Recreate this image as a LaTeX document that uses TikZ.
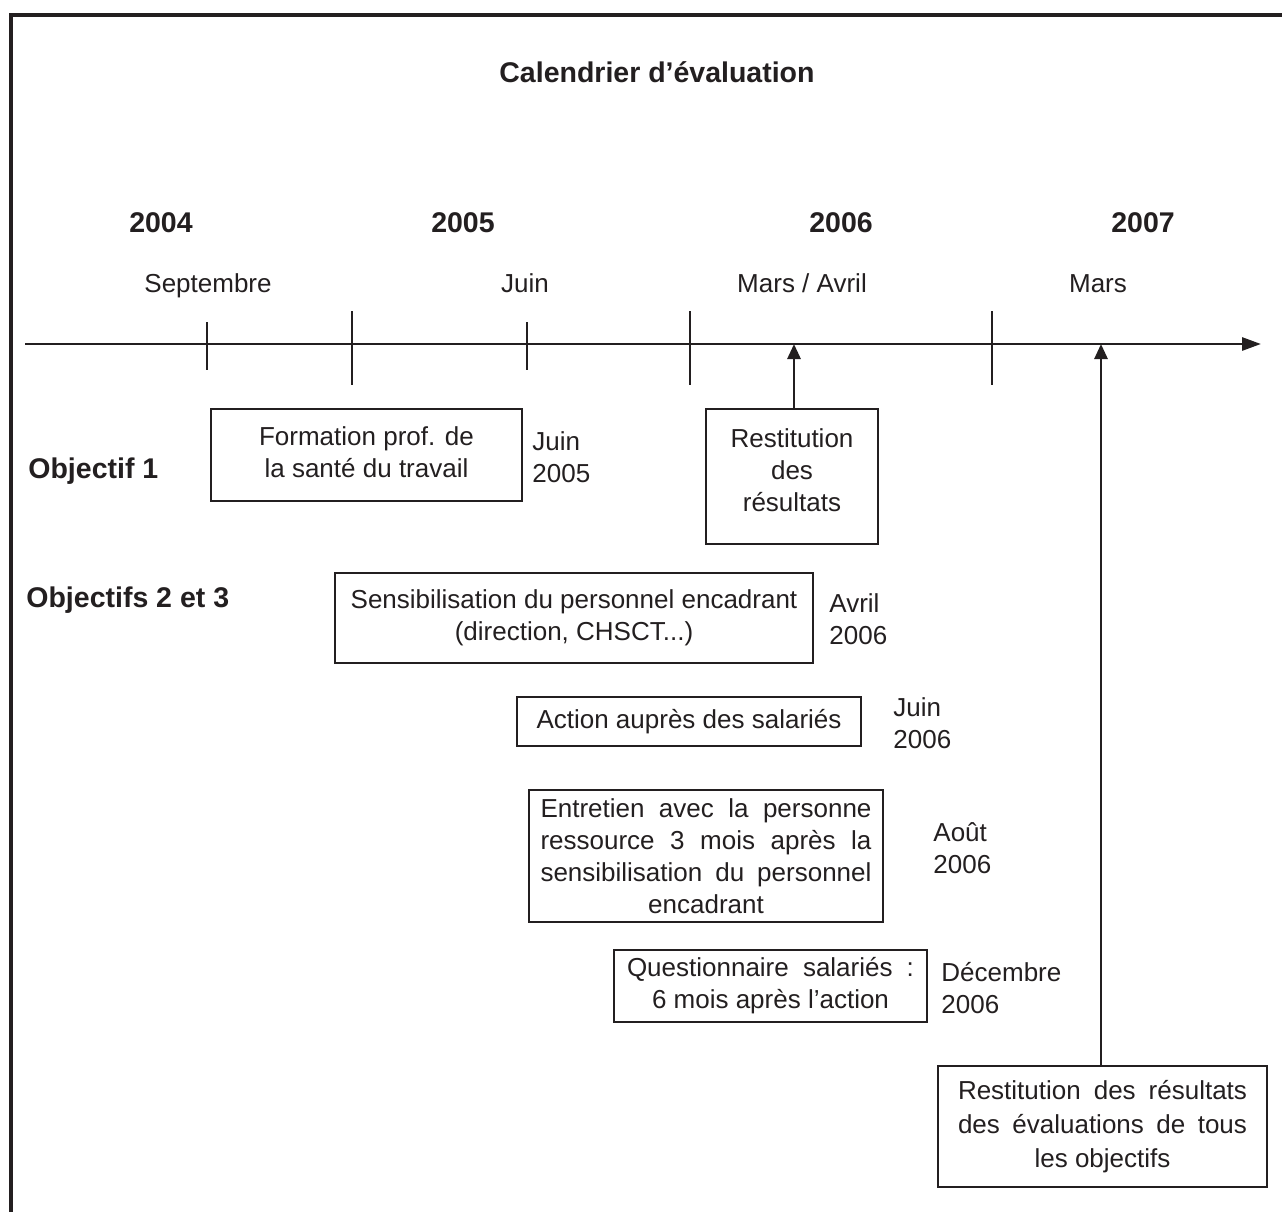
\documentclass[tikz,border=0pt]{standalone}
\usepackage{fontspec}
\setmainfont{Liberation Sans}
\usetikzlibrary{arrows.meta}
\definecolor{ink}{HTML}{231F20}
\begin{document}
\begin{tikzpicture}[x=1pt,y=-1pt, color=ink, line width=2.8pt,
  every node/.style={font=\fontsize{26}{32}\selectfont, text=ink},
  box/.style={draw=ink, line width=2.8pt, inner sep=0pt, align=center},
  lab/.style={anchor=west, align=left, inner sep=0pt},
  one/.style={anchor=base, inner sep=0pt},
  bold/.style={anchor=base, inner sep=0pt, font=\fontsize{28.5}{34}\selectfont\bfseries},
  tip/.style={-{Triangle[length=15pt,width=13pt]}}]
\useasboundingbox (0,0) rectangle (1282,1212);
\fill[white] (0,0) rectangle (1282,1212);
% frame
\draw[line width=3.2pt, line join=miter] (11,1212) -- (11,15) -- (1282,15);
% title
\node[bold] (title) at (657,83) {Calendrier d’évaluation};
% years
\node[bold] (y4) at (161,232) {2004};
\node[bold] (y5) at (463,232) {2005};
\node[bold] (y6) at (841,232) {2006};
\node[bold] (y7) at (1143,232) {2007};
% months
\node[one] (m1) at (208,292) {Septembre};
\node[one] (m2) at (525,292) {Juin};
\node[one] (m3) at (802,292) {Mars / Avril};
\node[one] (m4) at (1098,292) {Mars};
% axis
\coordinate (a0) at (25,344);
\coordinate (a1) at (1261,344);
\draw[-{Triangle[length=19pt,width=13pt]}] (a0) -- (a1);
% ticks
\draw (207,322) -- (207,370);
\draw (527,322) -- (527,370);
\draw (352,311) -- (352,385);
\draw (690,311) -- (690,385);
\draw (992,311) -- (992,385);
% objective labels
\node[bold, anchor=base west] (o1) at (27,478) {Objectif 1};
\node[bold, anchor=base west] (o23) at (25,607) {Objectifs 2 et 3};
% boxes
\node[box, minimum width=311pt, minimum height=92pt] (b1) at (366.5,455) {};
\node[align=center, inner sep=0pt] (b1t) at (366.5,452)
  {Formation prof. de\\la santé du travail};
\node[lab] (d1) at (531,457) {Juin\\2005};
\node[box, minimum width=172pt, minimum height=135pt] (b2) at (792,476.5) {};
\node[align=center, inner sep=0pt] (b2t) at (792,470)
  {Restitution\\des\\résultats};
\node[box, minimum width=478pt, minimum height=90pt] (b3) at (574,618)
  {Sensibilisation du personnel encadrant\\(direction, CHSCT...)};
\node[lab] (d3) at (828,619.5) {Avril\\2006};
\node[box, minimum width=344pt, minimum height=49pt] (b4) at (689,721.5)
  {Action auprès des salariés};
\node[lab] (d4) at (892,723) {Juin\\2006};
\node[box, minimum width=354pt, minimum height=132pt] (b5) at (706,856)
  {\makebox[331pt][s]{Entretien avec la personne}\\
   \makebox[331pt][s]{ressource 3 mois après la}\\
   \makebox[331pt][s]{sensibilisation du personnel}\\
   encadrant};
\node[lab] (d5) at (932,848) {Août\\2006};
\node[box, minimum width=313pt, minimum height=72pt] (b6) at (770.5,986)
  {\makebox[287pt][s]{Questionnaire salariés :}\\6 mois après l’action};
\node[lab] (d6) at (940,988) {Décembre\\2006};
\node[box, minimum width=329pt, minimum height=121pt,
  font=\fontsize{26}{34}\selectfont] (b7) at (1102.5,1126.5)
  {\makebox[289pt][s]{Restitution des résultats}\\
   \makebox[289pt][s]{des évaluations de tous}\\
   les objectifs};
% arrows to axis
\coordinate (t1) at (794,344);
\coordinate (t2) at (1101,344);
\draw[tip] (b2.north -| t1) -- (t1);
\draw[tip] (b7.north -| t2) -- (t2);
\end{tikzpicture}
\end{document}
